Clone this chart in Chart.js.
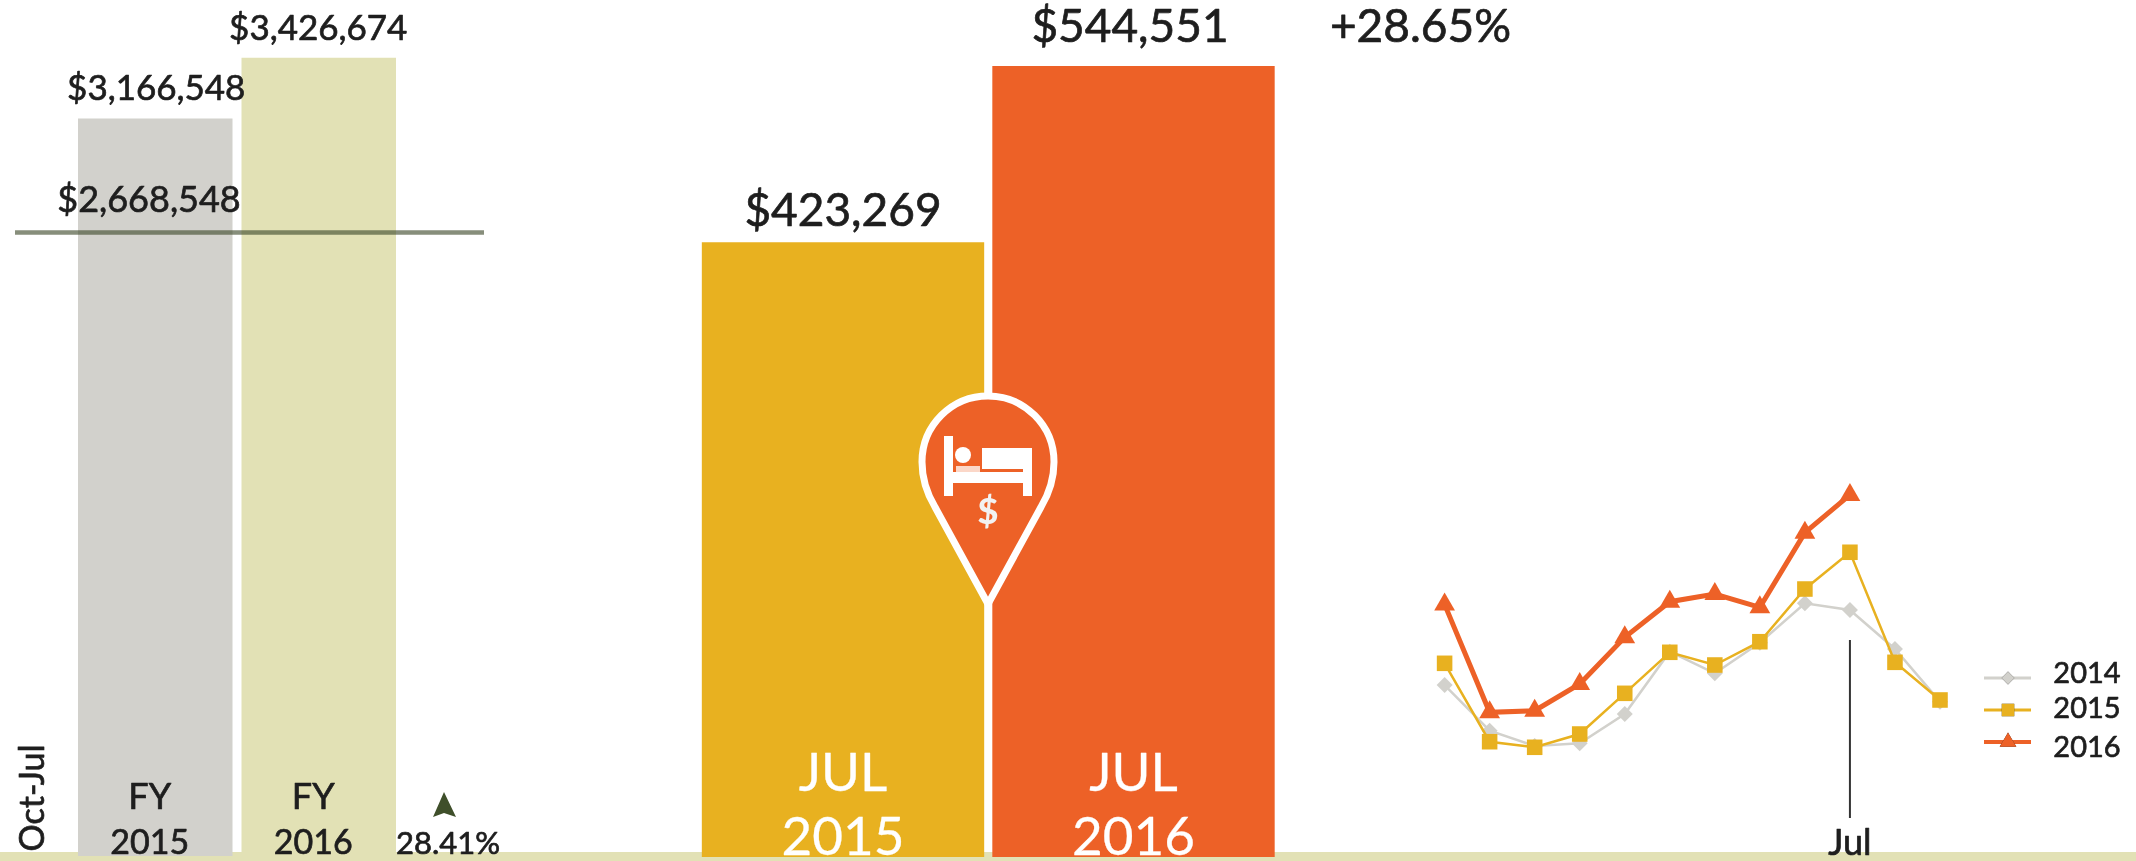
<!DOCTYPE html>
<html><head><meta charset="utf-8">
<script src="https://cdn.jsdelivr.net/npm/chart.js@4/dist/chart.umd.min.js"></script>
<style>
html,body{margin:0;padding:0;background:#fff;width:2136px;height:861px;overflow:hidden}
canvas,svg,#ground{position:absolute;left:0;top:0}
#ground{top:852px;width:2136px;height:9px;background:#E2E1B5}
</style></head><body>
<div id="ground"></div>
<canvas id="fy" width="2136" height="861"></canvas>
<canvas id="jul" width="2136" height="861"></canvas>
<canvas id="trend" width="2136" height="861"></canvas>
<svg width="2136" height="861" viewBox="0 0 2136 861">
  <g transform="translate(0,4)">
  <path d="M988 600 L935 503 C926 488 922 474 922 458 A66 66 0 1 1 1054 458 C1054 474 1050 488 1041 503 Z" fill="#ED6127" stroke="#fff" stroke-width="7" stroke-linejoin="round"/>
  <g fill="#fff">
    <rect x="944" y="432" width="9" height="60"/>
    <rect x="1023" y="444" width="9" height="48"/>
    <rect x="953" y="468" width="70" height="11"/>
    <rect x="982" y="444" width="41" height="21"/>
    <circle cx="963" cy="451" r="8"/>
    <rect x="956" y="462" width="24" height="6" opacity=".75"/>
  </g>
  <text x="988" y="520" font-family="Lato" font-weight="900" font-size="36" text-anchor="middle" fill="#f2f2f2">$</text>
  </g>
</svg>
<script>
const fyCategories = ["FY 2015", "FY 2016"];
const fyValues = [3166548, 3426674];
const fyTarget = 2668548;
const fyChange = "28.41%";
const periodLabel = "Oct-Jul";

const julCategories = ["JUL 2015", "JUL 2016"];
const julValues = [423269, 544551];
const julChange = "+28.65%";

const months = ["Oct","Nov","Dec","Jan","Feb","Mar","Apr","May","Jun","Jul","Aug","Sep"];
const series2014 = [142400,45700,13300,19000,81000,212900,167200,231900,315300,301100,218600,107100];
const series2015 = [188300,22400,10600,38700,124800,211600,184700,234000,345500,423269,190400,110700];
const series2016 = [313000,84600,88100,144500,243300,318700,335000,306800,464700,544551];

const FONT = "Lato, sans-serif";
const INK = "#1e1e1e";
const C = {grey:"#D2D1CC", khaki:"#E2E1B5", gold:"#E8B120", orange:"#ED6127", olive:"#3F4F2A"};
Chart.defaults.animation = false;
Chart.defaults.responsive = false;
Chart.defaults.devicePixelRatio = 1;
Chart.defaults.plugins.legend.display = false;
Chart.defaults.plugins.tooltip.enabled = false;
Chart.defaults.events = [];

function put(ctx, s, x, y, size, color) {
  ctx.font = "400 " + size + "px " + FONT;
  ctx.fillStyle = color || INK;
  ctx.textAlign = "center";
  ctx.textBaseline = "alphabetic";
  ctx.fillText(s, x, y);
  ctx.strokeStyle = color || INK;
  ctx.lineWidth = color ? 0.3 : 0.7;
  ctx.lineJoin = "round";
  ctx.strokeText(s, x, y);
}
function hiddenScales(max, offset) {
  return {
    x: {display:false, offset:offset},
    y: {display:false, min:0, max:max}
  };
}

new Chart(document.getElementById("fy"), {
  type:"bar",
  data:{labels:fyCategories, datasets:[{data:fyValues, backgroundColor:[C.grey,C.khaki],
    barPercentage:0.945, categoryPercentage:1}]},
  options:{
    layout:{padding:{left:73.5, right:2136-400.5, top:0, bottom:5}},
    scales:hiddenScales(3675000, true)
  },
  plugins:[{id:"fyNotes", afterDatasetsDraw(ch){
    const c=ch.ctx, xs=ch.scales.x, ys=ch.scales.y;
    const yT=ys.getPixelForValue(fyTarget)-2;
    c.save();
    c.strokeStyle="rgba(62,72,42,.62)"; c.lineWidth=4.5;
    c.beginPath(); c.moveTo(15,yT); c.lineTo(484,yT); c.stroke();
    put(c,"$"+fyTarget.toLocaleString("en-US"),149,yT-20,36);
    fyValues.forEach((v,i)=>{
      const x=xs.getPixelForValue(i), y=ys.getPixelForValue(v);
      put(c,"$"+v.toLocaleString("en-US"),x+(i?-0.5:1),y-18,35);
      const [a,b]=fyCategories[i].split(" ");
      put(c,a,x-5.5,809,36);
      put(c,b,x-5.5,854,34);
    });
    put(c,fyChange,448,854,31);
    c.fillStyle=C.olive;
    c.beginPath(); c.moveTo(444,792); c.lineTo(456,817); c.lineTo(444,813); c.lineTo(433,817); c.closePath(); c.fill();
    c.translate(44,798); c.rotate(-Math.PI/2);
    put(c,periodLabel,0,0,34);
    c.restore();
  }}]
});

new Chart(document.getElementById("jul"), {
  type:"bar",
  data:{labels:julCategories, datasets:[{data:julValues, backgroundColor:[C.gold,C.orange],
    barPercentage:0.972, categoryPercentage:1}]},
  options:{
    layout:{padding:{left:697.75, right:2136-1278.75, top:0, bottom:4}},
    scales:hiddenScales(590000, true)
  },
  plugins:[{id:"julNotes", afterDatasetsDraw(ch){
    const c=ch.ctx, xs=ch.scales.x, ys=ch.scales.y;
    c.save();
    julValues.forEach((v,i)=>{
      const x=xs.getPixelForValue(i), y=ys.getPixelForValue(v);
      put(c,"$"+v.toLocaleString("en-US"),i?x-3.5:x,y-(i?24:16),46);
      const [a,b]=julCategories[i].split(" ");
      put(c,a,x,791,53,"#fff");
      put(c,b,x,855,53,"#fff");
    });
    put(c,julChange,1420.5,42,46);
    c.restore();
  }}]
});

const lineSets = [
  {label:"2014", data:series2014, borderColor:C.grey, backgroundColor:C.grey, borderWidth:2.5, pointStyle:"rectRot", pointRadius:8, order:3, clip:false},
  {label:"2015", data:series2015, borderColor:C.gold, backgroundColor:C.gold, borderWidth:2.5, pointStyle:"rect", pointRadius:11, order:2, clip:false},
  {label:"2016", data:series2016, borderColor:C.orange, backgroundColor:C.orange, borderWidth:5, pointStyle:"triangle", pointRadius:12, order:1, clip:false}
];
const legendRows = [678,710,742];
const legendText = [683,718,757];
new Chart(document.getElementById("trend"), {
  type:"line",
  data:{labels:months, datasets:lineSets.map(d=>({...d, pointBorderWidth:0, tension:0}))},
  options:{
    layout:{padding:{left:1444.6, right:196, top:460, bottom:108.7}},
    scales:hiddenScales(618500, false)
  },
  plugins:[{id:"trendNotes", afterDatasetsDraw(ch){
    const c=ch.ctx, xJ=ch.scales.x.getPixelForValue(months.indexOf("Jul"));
    c.save();
    c.strokeStyle="#333"; c.lineWidth=2;
    c.beginPath(); c.moveTo(xJ,640); c.lineTo(xJ,818); c.stroke();
    put(c,"Jul",xJ,855,36);
    lineSets.forEach((d,i)=>{
      const y=legendRows[i];
      c.strokeStyle=d.borderColor; c.lineWidth=d.borderWidth<3?3:4;
      c.beginPath(); c.moveTo(1984,y); c.lineTo(2031,y); c.stroke();
      Chart.helpers.drawPoint(c,{pointStyle:d.pointStyle, radius:d.pointRadius*0.8, rotation:0, borderWidth:0},2008,y);
      c.fillStyle=d.backgroundColor; c.fill();
      put(c,d.label,2087,legendText[i],29);
    });
    c.restore();
  }}]
});
</script>
</body></html>
